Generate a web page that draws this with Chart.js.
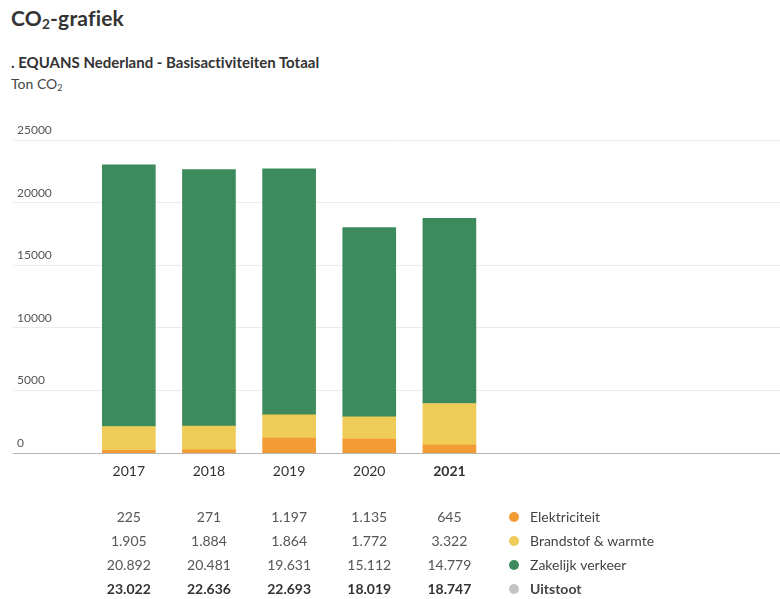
<!DOCTYPE html>
<html>
<head>
<meta charset="utf-8">
<script src="https://cdn.jsdelivr.net/npm/chart.js@4/dist/chart.umd.min.js"></script>
<style>
  html, body { margin: 0; padding: 0; background: #fff; }
  body { width: 780px; height: 599px; position: relative; overflow: hidden; font-family: Lato, "Noto Sans", sans-serif; color: #333; font-variant-ligatures: none; }
  #title { position: absolute; left: 11px; top: 5px; font-size: 21px; font-weight: 700; color: #333; letter-spacing: 0.2px; }
  #subtitle { position: absolute; left: 11px; top: 53px; font-size: 15px; font-weight: 700; color: #333; }
  #unit { position: absolute; left: 11px; top: 75px; font-size: 14px; color: #444; }
  sub { font-size: 0.65em; vertical-align: -0.25em; line-height: 0; }
  #wrap { position: absolute; left: 0; top: 0; width: 780px; height: 599px; }
</style>
</head>
<body>
<div id="title">CO<sub>2</sub>-grafiek</div>
<div id="subtitle">. EQUANS Nederland - Basisactiviteiten Totaal</div>
<div id="unit">Ton CO<sub>2</sub></div>
<div id="wrap"><canvas id="c"></canvas></div>
<script>
// ---- data ----
const years = ['2017', '2018', '2019', '2020', '2021'];
const elektriciteit = [225, 271, 1197, 1135, 645];
const brandstof = [1905, 1884, 1864, 1772, 3322];
const zakelijk = [20892, 20481, 19631, 15112, 14779];
const uitstoot = [23022, 22636, 22693, 18019, 18747];
const seriesNames = ['Elektriciteit', 'Brandstof & warmte', 'Zakelijk verkeer', 'Uitstoot'];
const yTicks = [0, 5000, 10000, 15000, 20000, 25000];

const colors = ['#F39B34', '#EFCB57', '#3D8B5D', '#C4C3C6'];
const fmt = n => String(n).replace(/\B(?=(\d{3})+(?!\d))/g, '.');
const toXY = arr => arr.map((v, i) => ({ x: i, y: v }));
const FONT = 'Lato, "Noto Sans", sans-serif';

const tablePlugin = {
  id: 'tablePlugin',
  afterDraw(chart) {
    const ctx = chart.ctx;
    const xs = chart.scales.x;
    const rows = [elektriciteit, brandstof, zakelijk, uitstoot];
    const rowY = [517, 541, 565, 589];
    ctx.save();
    ctx.textBaseline = 'middle';
    rows.forEach((row, r) => {
      const bold = r === 3;
      ctx.font = (bold ? '700 ' : '400 ') + '14px ' + FONT;
      ctx.fillStyle = bold ? '#333' : '#555';
      ctx.textAlign = 'center';
      row.forEach((v, i) => {
        ctx.fillText(fmt(v), xs.getPixelForValue(i), rowY[r]);
      });
      ctx.beginPath();
      ctx.fillStyle = colors[r];
      ctx.arc(514, rowY[r], 5, 0, Math.PI * 2);
      ctx.fill();
      ctx.textAlign = 'left';
      ctx.fillStyle = '#444';
      ctx.font = (bold ? '700 ' : '400 ') + '14px ' + FONT;
      ctx.fillText(seriesNames[r], 530, rowY[r]);
    });
    ctx.restore();
  }
};

new Chart(document.getElementById('c'), {
  type: 'bar',
  data: {
    datasets: [
      { label: seriesNames[0], data: toXY(elektriciteit), backgroundColor: colors[0] },
      { label: seriesNames[1], data: toXY(brandstof), backgroundColor: colors[1] },
      { label: seriesNames[2], data: toXY(zakelijk), backgroundColor: colors[2] }
    ]
  },
  options: {
    responsive: true,
    maintainAspectRatio: false,
    animation: false,
    layout: { padding: { left: 5, right: 0, top: 140, bottom: 109 } },
    datasets: { bar: { barThickness: 53 } },
    plugins: { legend: { display: false }, tooltip: { enabled: false } },
    scales: {
      x: {
        type: 'linear',
        stacked: true,
        offset: false,
        min: -1.445,
        max: 8.125,
        afterBuildTicks: axis => { axis.ticks = years.map((_, i) => ({ value: i })); },
        grid: { display: false, drawTicks: false },
        border: { display: true, color: '#B5B5B5', width: 1 },
        ticks: {
          padding: 10,
          autoSkip: false,
          maxRotation: 0,
          color: '#333',
          callback: v => years[v] ?? '',
          font: ctx => ({ family: FONT, size: 14, weight: (ctx.tick && ctx.tick.value === years.length - 1) ? '700' : '400' })
        }
      },
      y: {
        stacked: true,
        min: 0,
        max: 25000,
        afterBuildTicks: axis => { axis.ticks = yTicks.map(v => ({ value: v })); },
        grid: { color: '#EBEBEB', drawTicks: false, lineWidth: 1 },
        border: { display: false },
        ticks: {
          mirror: true,
          padding: 4,
          labelOffset: -10,
          color: '#555',
          font: { family: FONT, size: 12 },
          callback: v => String(v)
        }
      }
    }
  },
  plugins: [tablePlugin]
});
</script>
</body>
</html>
